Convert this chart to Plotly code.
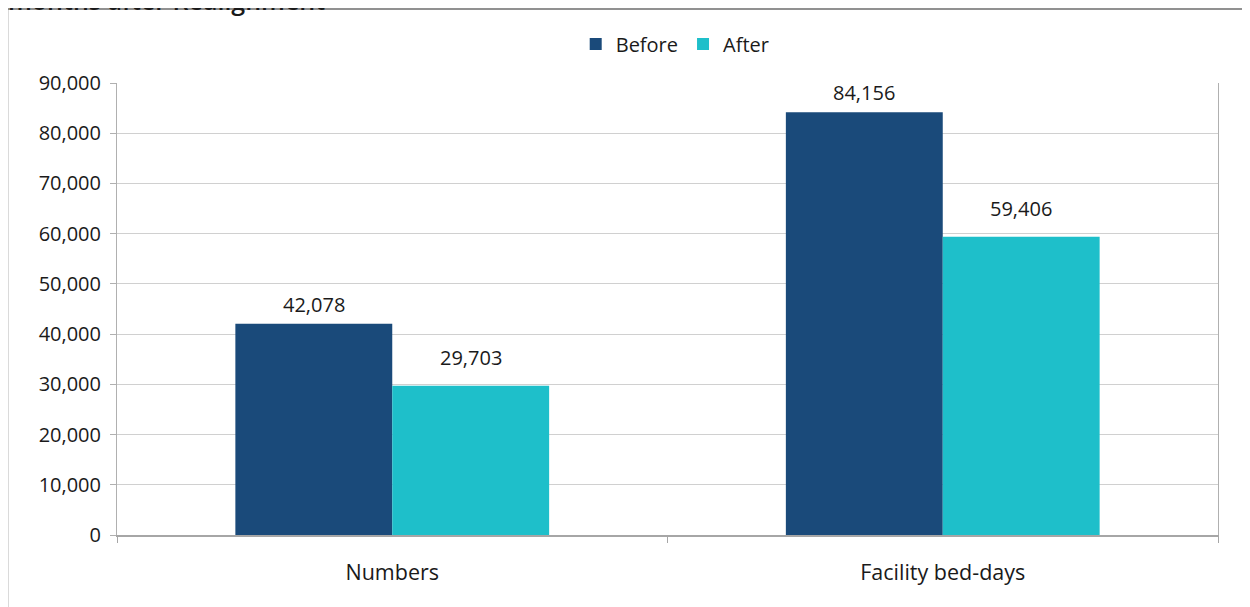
import plotly.graph_objects as go

categories = ["Numbers", "Facility bed-days"]
before_vals = [42078, 84156]
after_vals = [29703, 59406]
series_names = ["Before", "After"]
title_text = "months after Realignment"

FONT = "Open Sans"
TXT = "#1a1a1a"
COLORS = ["#1a4a7a", "#1ebfca"]

# page body has an 8px margin; plot area in the screenshot spans x 117-1218, y 83-535
PL, PR, PT, PB = 117, 1218, 83, 535
PW, PH = PR - PL, PB - PT

def px_x(x):
    return (x - PL) / PW

def px_y(y):
    return (PB - y) / PH

fig = go.Figure()
for name, vals, col in zip(series_names, [before_vals, after_vals], COLORS):
    fig.add_trace(go.Bar(
        name=name, x=categories, y=vals,
        marker=dict(color=col, line=dict(width=0)),
        hovertemplate="%{x}: %{y:,}<extra>" + name + "</extra>",
    ))

# data labels above each bar (bars are ~157px wide, centred +/- 78.5px from category centre)
label_style = [(-78.5, 19.5), (78.5, 28.5)]
for (xs, ys), vals in zip(label_style, [before_vals, after_vals]):
    for cat, v in zip(categories, vals):
        fig.add_annotation(x=cat, y=v, xref="x", yref="y", text=f"{v:,}",
                           showarrow=False, xshift=xs, yshift=ys,
                           xanchor="center", yanchor="middle",
                           font=dict(family=FONT, size=20, color=TXT))

fig.update_layout(
    width=1250, height=607,
    margin=dict(l=PL - 8, r=1250 + 8 - PR, t=PT - 8, b=607 + 8 - PB),
    paper_bgcolor="white", plot_bgcolor="white",
    font=dict(family=FONT, size=20, color=TXT),
    barmode="group", bargap=0.43, bargroupgap=0,
    showlegend=True,
    legend=dict(orientation="h", x=0.507, xanchor="center", y=px_y(44), yanchor="middle",
                font=dict(family=FONT, size=20, color=TXT), itemwidth=30,
                traceorder="normal", bgcolor="rgba(0,0,0,0)"),
)
fig.update_xaxes(
    type="category", showgrid=False, showline=True, linecolor="#a6a6a6", linewidth=2,
    ticks="outside", tickson="boundaries", ticklen=6, tickcolor="#a6a6a6",
    tickfont=dict(family=FONT, size=21.5, color=TXT), ticklabelstandoff=17,
)
fig.update_yaxes(
    range=[0, 90000], dtick=10000, tickformat=",",
    showgrid=True, gridcolor="#d0d0d0", gridwidth=1,
    showline=True, linecolor="#b0b0b0", linewidth=1, mirror=True,
    ticks="outside", ticklen=6, tickcolor="#b0b0b0",
    tickfont=dict(family=FONT, size=20, color=TXT), ticklabelstandoff=5,
    zeroline=False,
)
# outer chart frame (partially cropped in the reference)
fig.add_shape(type="rect", xref="paper", yref="paper",
              x0=px_x(7.5), x1=px_x(1270), y0=px_y(640), y1=px_y(9),
              line=dict(color="#6e6e6e", width=1.5), fillcolor="rgba(0,0,0,0)", layer="below")
fig.add_annotation(text=title_text, xref="paper", yref="paper",
                   x=px_x(6), xanchor="left", y=px_y(19), yanchor="bottom",
                   showarrow=False, font=dict(family=FONT, size=25, color=TXT, weight=600))

fig.write_html("out.html")
